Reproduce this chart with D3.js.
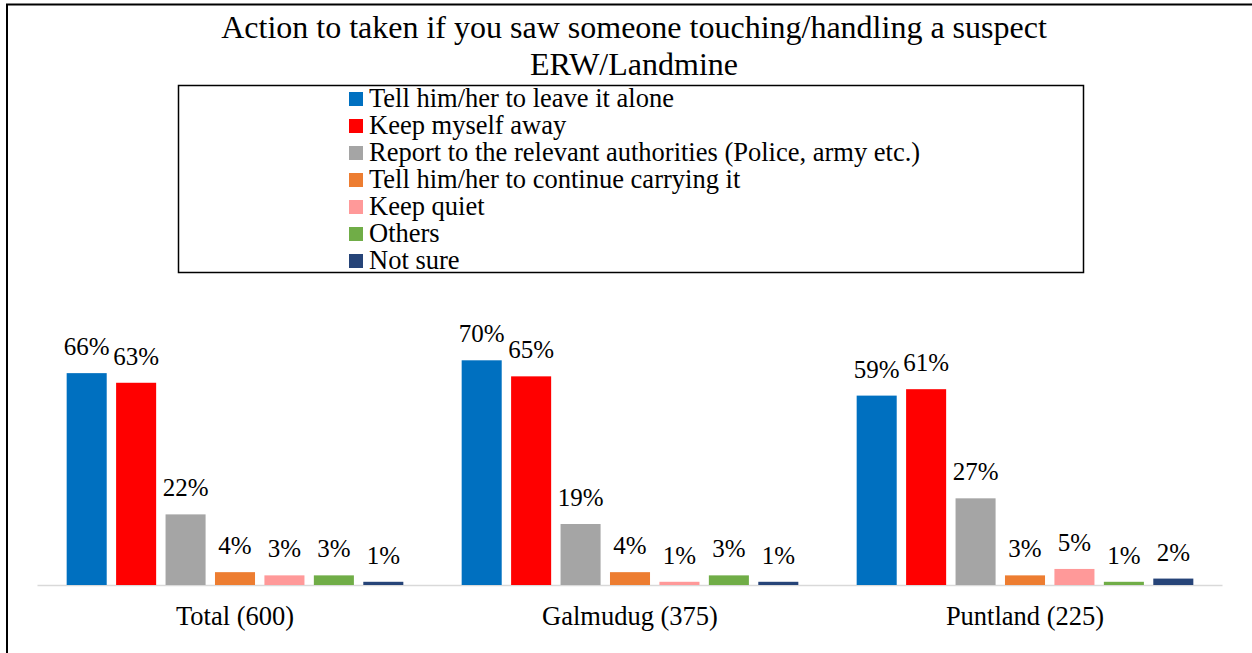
<!DOCTYPE html>
<html>
<head>
<meta charset="utf-8">
<script src="https://cdn.jsdelivr.net/npm/d3@7"></script>
<style>
  body { margin: 0; background: #fff; }
  text { font-family: "Liberation Serif", "Times New Roman", serif; fill: #000; }
</style>
</head>
<body>
<div id="chart"></div>
<script>
// categories along the x axis
const regions = ['Total (600)', 'Galmudug (375)', 'Puntland (225)'];

// one series per answer
const answers = [
    'Tell him/her to leave it alone',
    'Keep myself away',
    'Report to the relevant authorities (Police, army etc.)',
    'Tell him/her to continue carrying it',
    'Keep quiet',
    'Others',
    'Not sure',
];
const answerColors = ['#0070C0', '#FF0000', '#A5A5A5', '#ED7D31', '#FF9999', '#70AD47', '#264478'];

// percentages, region x answer
const totalValues = [66, 63, 22, 4, 3, 3, 1];
const galmudugValues = [70, 65, 19, 4, 1, 3, 1];
const puntlandValues = [59, 61, 27, 3, 5, 1, 2];

const titleLines = ['Action to taken if you saw someone touching/handling a suspect', 'ERW/Landmine'];

const width = 1252;
const height = 653;

const svg = d3.select('#chart')
    .append('svg')
    .attr('width', width)
    .attr('height', height);

//outer frame (only left and top are visible in the picture)
svg.append('rect')
    .attr('x', 7)
    .attr('y', 4.5)
    .attr('width', width + 10)
    .attr('height', height + 10)
    .attr('fill', 'none')
    .attr('stroke', '#000')
    .attr('stroke-width', 2);

/* TITLE */
svg.selectAll('text.title')
    .data(titleLines)
    .join('text')
    .attr('class', 'title')
    .attr('x', 634)
    .attr('y', (d, i) => 38 + i * 37)
    .attr('text-anchor', 'middle')
    .style('font-size', '32px')
    .text((d) => d);

/* LEGEND */
const legend = svg.append('g').attr('class', 'legend');
legend.append('rect')
    .attr('x', 178.5)
    .attr('y', 85.5)
    .attr('width', 905)
    .attr('height', 187)
    .attr('fill', 'none')
    .attr('stroke', '#000')
    .attr('stroke-width', 1.5);

legend.selectAll('rect.swatch')
    .data(answers)
    .join('rect')
    .attr('class', 'swatch')
    .attr('x', 349)
    .attr('y', (d, i) => 92 + i * 27)
    .attr('width', 14)
    .attr('height', 14)
    .attr('fill', (d, i) => answerColors[i]);

legend.selectAll('text')
    .data(answers)
    .join('text')
    .attr('x', 369)
    .attr('y', (d, i) => 107 + i * 27)
    .style('font-size', '26.5px')
    .text((d) => d);

/* PLOT */
const data = [totalValues, galmudugValues, puntlandValues];
const baseline = 585;

const x0 = d3.scaleBand()
    .domain(regions)
    .range([37.5, 1222.5]);

const x1 = d3.scaleBand()
    .domain(answers)
    .range([0, x0.bandwidth()])
    .paddingInner(0.19)
    .paddingOuter(0.59);

const y = d3.scaleLinear()
    .domain([0, 80])
    .range([baseline, baseline - 256.8]);

const color = d3.scaleOrdinal().domain(answers).range(answerColors);

const plot = svg.append('g').attr('class', 'plot');

//axis baseline
plot.append('line')
    .attr('x1', x0.range()[0])
    .attr('x2', x0.range()[1])
    .attr('y1', baseline + 0.5)
    .attr('y2', baseline + 0.5)
    .attr('stroke', '#D9D9D9')
    .attr('stroke-width', 1.5);

const groups = plot.selectAll('g.region')
    .data(regions)
    .join('g')
    .attr('class', 'region')
    .attr('transform', (d) => `translate(${x0(d)},0)`);

const cells = (r, ri) => answers.map((a, ai) => ({ answer: a, value: data[ri][ai] }));

groups.selectAll('rect')
    .data(cells)
    .join('rect')
    .attr('x', (d) => x1(d.answer))
    .attr('width', x1.bandwidth())
    .attr('y', (d) => y(d.value))
    .attr('height', (d) => baseline - y(d.value))
    .attr('fill', (d) => color(d.answer));

groups.selectAll('text.value')
    .data(cells)
    .join('text')
    .attr('class', 'value')
    .attr('x', (d) => x1(d.answer) + x1.bandwidth() / 2)
    .attr('y', (d) => y(d.value) - 18)
    .attr('text-anchor', 'middle')
    .style('font-size', '25px')
    .text((d) => d.value + '%');

//category labels
plot.selectAll('text.cat')
    .data(regions)
    .join('text')
    .attr('class', 'cat')
    .attr('x', (d) => x0(d) + x0.bandwidth() / 2)
    .attr('y', 625)
    .attr('text-anchor', 'middle')
    .style('font-size', '26.5px')
    .text((d) => d);
</script>
</body>
</html>
